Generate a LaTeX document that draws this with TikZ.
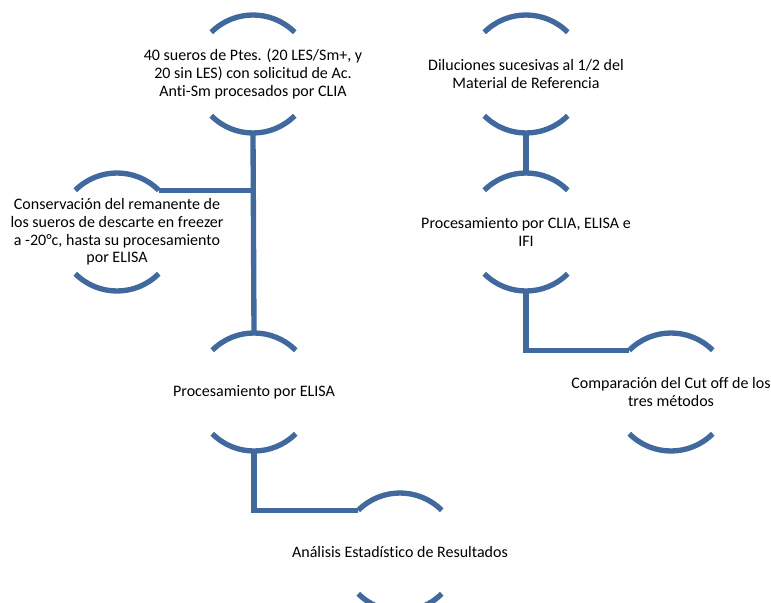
\documentclass[tikz,border=0pt]{standalone}
\usepackage{fontspec}
\setmainfont[Ligatures=NoCommon]{Carlito}
\definecolor{ringblue}{RGB}{65,105,158}
\begin{document}
\begin{tikzpicture}[x=0.75pt,y=-0.75pt,
  ring/.style={circle,draw=none,inner sep=0pt,outer sep=0pt,minimum size=88.5pt},
  lbl/.style={align=center,inner sep=0pt,font=\fontsize{12}{13.3}\selectfont,text=black},
  arcline/.style={draw=ringblue,line width=4pt},
  conn/.style={draw=ringblue,line width=4pt,line join=miter}]
\useasboundingbox (0,0) rectangle (771,603);
% shapes
\node[ring] (n1) at (253,74) {};
\node[ring] (n2) at (117,232) {};
\node[ring] (n3) at (254,392) {};
\node[ring] (n4) at (400,552) {};
\node[ring] (n5) at (526,74) {};
\node[ring] (n6) at (526,232) {};
\node[ring] (n7) at (671,392) {};
\foreach \n in {n1,n2,n3,n4,n5,n6,n7}{
  \draw[arcline] (\n.135) arc[start angle=135,end angle=45,radius=44.25pt];
  \draw[arcline] (\n.-135) arc[start angle=-135,end angle=-45,radius=44.25pt];
}
% texts
\node[lbl] (t1) at (n1) {40 sueros de Ptes. (20 LES/Sm+, y\\20 sin LES) con solicitud de Ac.\\Anti-Sm procesados por CLIA};
\node[lbl] (t2) at (n2) {Conservación del remanente de\\los sueros de descarte en freezer\\a -20°c, hasta su procesamiento\\por ELISA};
\node[lbl] (t3) at (n3) {Procesamiento por ELISA};
\node[lbl] (t4) at (n4) {Análisis Estadístico de Resultados};
\node[lbl] (t5) at (n5) {Diluciones sucesivas al 1/2 del\\Material de Referencia};
\node[lbl] (t6) at (n6) {Procesamiento por CLIA, ELISA e\\IFI};
\node[lbl] (t7) at (n7) {Comparación del Cut off de los\\tres métodos};
% connectors
\draw[conn] (n1.south) -- (n3.north);
\draw[conn] (n2.45) -- (n2.45 -| n1.south);
\draw[conn] (n3.south) |- (n4.135);
\draw[conn] (n5.south) -- (n6.north);
\draw[conn] (n6.south) |- (n7.135);
\end{tikzpicture}
\end{document}
